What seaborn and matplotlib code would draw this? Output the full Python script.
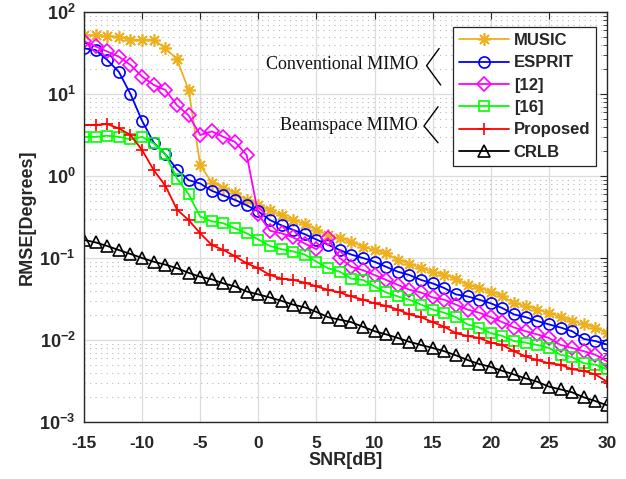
import numpy as np
import pandas as pd
import matplotlib
matplotlib.use("Agg")
import matplotlib.pyplot as plt
import matplotlib.ticker as mticker
import seaborn as sns

# Data
snr = list(range(-15, 31))

music = [52, 52, 51, 50, 46, 46, 46, 36, 26.5, 11.2, 1.36, 0.83, 0.72, 0.62, 0.51,
         0.44, 0.385, 0.33, 0.29, 0.26, 0.22, 0.19, 0.175, 0.158, 0.137, 0.125, 0.114,
         0.095, 0.085, 0.075, 0.068, 0.062, 0.056, 0.047, 0.043, 0.039, 0.034, 0.028,
         0.026, 0.0235, 0.0215, 0.019, 0.017, 0.0155, 0.0142, 0.0121]
esprit = [36, 34.4, 26, 18.6, 10, 4.7, 2.55, 1.84, 1.2, 0.89, 0.81, 0.66, 0.58, 0.51,
          0.44, 0.37, 0.29, 0.25, 0.22, 0.195, 0.168, 0.145, 0.125, 0.11, 0.1, 0.09,
          0.078, 0.068, 0.062, 0.054, 0.049, 0.043, 0.036, 0.034, 0.031, 0.028, 0.0245,
          0.0205, 0.019, 0.017, 0.0155, 0.0142, 0.0128, 0.0103, 0.0097, 0.0088]
ref12 = [44, 38, 33, 28.5, 22.6, 16.3, 12.9, 11.2, 7.3, 5.5, 3.16, 3.5, 3.0, 2.6, 1.8,
         0.34, 0.215, 0.2, 0.178, 0.15, 0.128, 0.175, 0.1, 0.078, 0.071, 0.062, 0.054,
         0.047, 0.041, 0.038, 0.033, 0.031, 0.027, 0.0235, 0.0215, 0.019, 0.0165,
         0.0142, 0.0128, 0.0117, 0.0106, 0.0087, 0.008, 0.0073, 0.0066, 0.0055]
ref16 = [3.0, 3.0, 3.1, 3.0, 2.8, 3.0, 2.5, 1.84, 0.93, 0.6, 0.32, 0.28, 0.265, 0.23,
         0.2, 0.168, 0.14, 0.128, 0.12, 0.11, 0.09, 0.075, 0.068, 0.056, 0.054, 0.045,
         0.038, 0.034, 0.031, 0.027, 0.0235, 0.0215, 0.019, 0.0155, 0.0142, 0.0121,
         0.0112, 0.0097, 0.0093, 0.0087, 0.008, 0.0066, 0.0062, 0.0052, 0.005, 0.0044]
proposed = [4.2, 4.2, 4.3, 3.8, 3.16, 2.07, 1.18, 0.76, 0.39, 0.29, 0.2, 0.144, 0.125,
            0.105, 0.086, 0.075, 0.062, 0.056, 0.054, 0.05, 0.045, 0.041, 0.038, 0.034,
            0.031, 0.028, 0.026, 0.0235, 0.0205, 0.019, 0.0165, 0.0145, 0.0121, 0.0112,
            0.0106, 0.0093, 0.0087, 0.0073, 0.0063, 0.0057, 0.0052, 0.005, 0.0044,
            0.0042, 0.0038, 0.0031]
crlb = [0.166, 0.155, 0.14, 0.125, 0.112, 0.1, 0.09, 0.083, 0.075, 0.066, 0.059, 0.055,
        0.049, 0.045, 0.039, 0.036, 0.033, 0.03, 0.027, 0.025, 0.022, 0.019, 0.0177,
        0.0165, 0.0145, 0.0128, 0.0117, 0.0106, 0.0095, 0.0087, 0.008, 0.0073, 0.0065,
        0.0057, 0.0051, 0.0047, 0.0042, 0.0038, 0.0034, 0.0031, 0.0027, 0.0025, 0.0023,
        0.002, 0.0018, 0.0016]

labels = ["MUSIC", "ESPRIT", "[12]", "[16]", "Proposed", "CRLB"]
series = [music, esprit, ref12, ref16, proposed, crlb]
colors = ["#EDB120", "#0000FF", "#FF00FF", "#00FF00", "#FF0000", "#000000"]
markers = [(8, 2, 0), "o", "D", "s", "+", "^"]
msizes = [9, 8, 7, 7, 9, 8]

sns.set_style("white")
plt.rcParams["font.family"] = ["Liberation Sans", "DejaVu Sans"]
plt.rcParams["font.weight"] = "bold"
plt.rcParams["axes.unicode_minus"] = False
plt.rcParams["mathtext.fontset"] = "custom"
plt.rcParams["mathtext.rm"] = "Liberation Sans:bold"
plt.rcParams["mathtext.it"] = "Liberation Sans:bold"
plt.rcParams["mathtext.bf"] = "Liberation Sans:bold"

fig = plt.figure(figsize=(6.26, 4.79), dpi=100)
ax = fig.add_axes([84 / 626, 1 - 422 / 479, 523 / 626, 410 / 479])

for lab, vals, col, mk, ms in zip(labels, series, colors, markers, msizes):
    df = pd.DataFrame({"snr": snr, "rmse": vals})
    sns.lineplot(data=df, x="snr", y="rmse", ax=ax, color=col, marker=mk, markersize=ms,
                 mfc="none", mec=col, mew=1.2, lw=1.3, label=lab)

ax.set_yscale("log")
ax.set_xlim(-15, 30)
ax.set_ylim(1e-3, 1e2)
ax.set_xticks(range(-15, 31, 5))
ax.yaxis.set_major_locator(mticker.LogLocator(base=10, numticks=10))
ax.yaxis.set_minor_locator(mticker.LogLocator(base=10, subs=np.arange(2, 10), numticks=20))
ax.yaxis.set_major_formatter(mticker.FuncFormatter(lambda v, p: r"$10^{%d}$" % round(np.log10(v))))
ax.yaxis.set_minor_formatter(mticker.NullFormatter())

ax.grid(True, which="major", color="#dcdcdc", lw=0.9, ls="-")
ax.grid(True, which="minor", axis="y", color="#b8b8b8", lw=0.8, ls=(0, (1, 4)))
ax.set_axisbelow(True)

for sp in ax.spines.values():
    sp.set_color("#262626")
    sp.set_linewidth(1.0)
ax.tick_params(which="both", direction="in", top=True, right=True, color="#262626")
ax.tick_params(which="major", length=5, labelcolor="#262626")
ax.tick_params(axis="x", which="major", labelsize=12.5, pad=10)
ax.tick_params(axis="y", which="major", labelsize=13, pad=6)
ax.tick_params(which="minor", length=3)

ax.set_xlabel("SNR[dB]", fontsize=13, fontweight="bold", color="#262626", labelpad=1)
ax.set_ylabel("RMSE[Degrees]", fontsize=13, fontweight="bold", color="#262626", labelpad=3)

leg = ax.legend(loc="upper right", bbox_to_anchor=(0.979, 0.963), borderaxespad=0,
                fancybox=False, frameon=True, edgecolor="#262626", framealpha=1,
                handlelength=3.0, handletextpad=0.3, labelspacing=0.44,
                borderpad=0.35, prop={"weight": "bold", "size": 12})
leg.get_frame().set_linewidth(0.9)

# annotations with "<" brackets
serif = ["Liberation Serif", "DejaVu Serif"]
ax.text(0.639, 0.871, "Conventional MIMO", transform=ax.transAxes, ha="right", va="center",
        fontsize=13, fontweight="normal", family=serif, color="#111111")
ax.text(0.639, 0.722, "Beamspace MIMO", transform=ax.transAxes, ha="right", va="center",
        fontsize=13, fontweight="normal", family=serif, color="#111111")
ax.plot([0.679, 0.655, 0.682], [0.911, 0.869, 0.822], transform=ax.transAxes,
        color="black", lw=1.0, clip_on=False)
ax.plot([0.677, 0.650, 0.677], [0.769, 0.722, 0.681], transform=ax.transAxes,
        color="black", lw=1.0, clip_on=False)

fig.savefig("out.png", dpi=100)
